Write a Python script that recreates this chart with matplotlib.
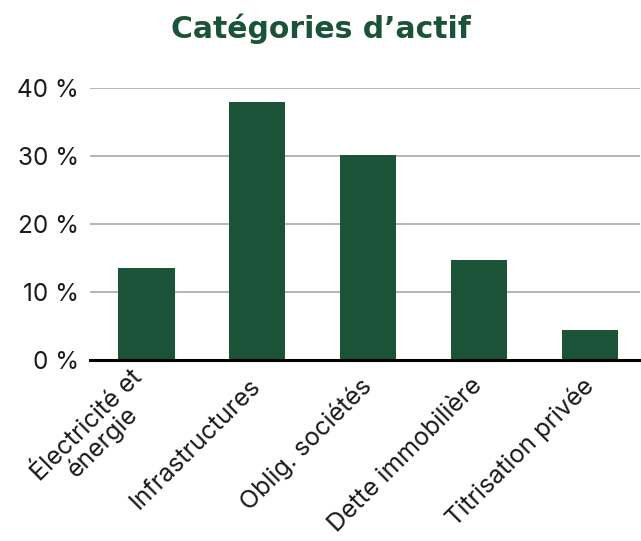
import matplotlib.pyplot as plt
import numpy as np

categories = ["Électricité et\nénergie", "Infrastructures", "Oblig. sociétés",
              "Dette immobilière", "Titrisation privée"]
shares = [13.5, 37.9, 30.2, 14.7, 4.4]
y_ticks = [0, 10, 20, 30, 40]
y_tick_labels = ["0 %", "10 %", "20 %", "30 %", "40 %"]

green = "#1b5338"

plt.rcParams['font.family'] = ['Inter', 'DejaVu Sans']

fig = plt.figure(figsize=(6.41, 5.41), dpi=100)
ax = fig.add_axes([0.140, 0.3346, 0.858, 0.5027])

x = np.arange(len(categories))
ax.bar(x, shares, width=0.51, color=green, zorder=3)

ax.set_ylim(0, 40)
ax.set_xlim(-0.51, 4.45)
ax.set_yticks(y_ticks)
ax.set_yticklabels(y_tick_labels, fontsize=17.5, color="#1a1a1a")
ax.yaxis.grid(True, color="#a8a8a8", linewidth=1.2, zorder=0)
ax.tick_params(axis='y', length=0, pad=8)
ax.tick_params(axis='x', length=0, pad=16)

for side in ['top', 'right', 'left']:
    ax.spines[side].set_visible(False)
ax.spines['bottom'].set_linewidth(2.2)
ax.spines['bottom'].set_color("black")
ax.spines['bottom'].set_zorder(4)

# rotated category names, right end centred under each bar
ax.set_xticks(x)
ax.set_xticklabels(categories, rotation=45, ha='right', va='center',
                   rotation_mode='anchor', fontsize=18, color="#1a1a1a",
                   multialignment='center', linespacing=0.95)

fig.text(0.5, 0.929, "Catégories d’actif", ha='center', va='baseline',
         fontsize=21.5, fontweight='bold', color=green,
         family=['DejaVu Sans'])

fig.savefig("out.png", dpi=100)
